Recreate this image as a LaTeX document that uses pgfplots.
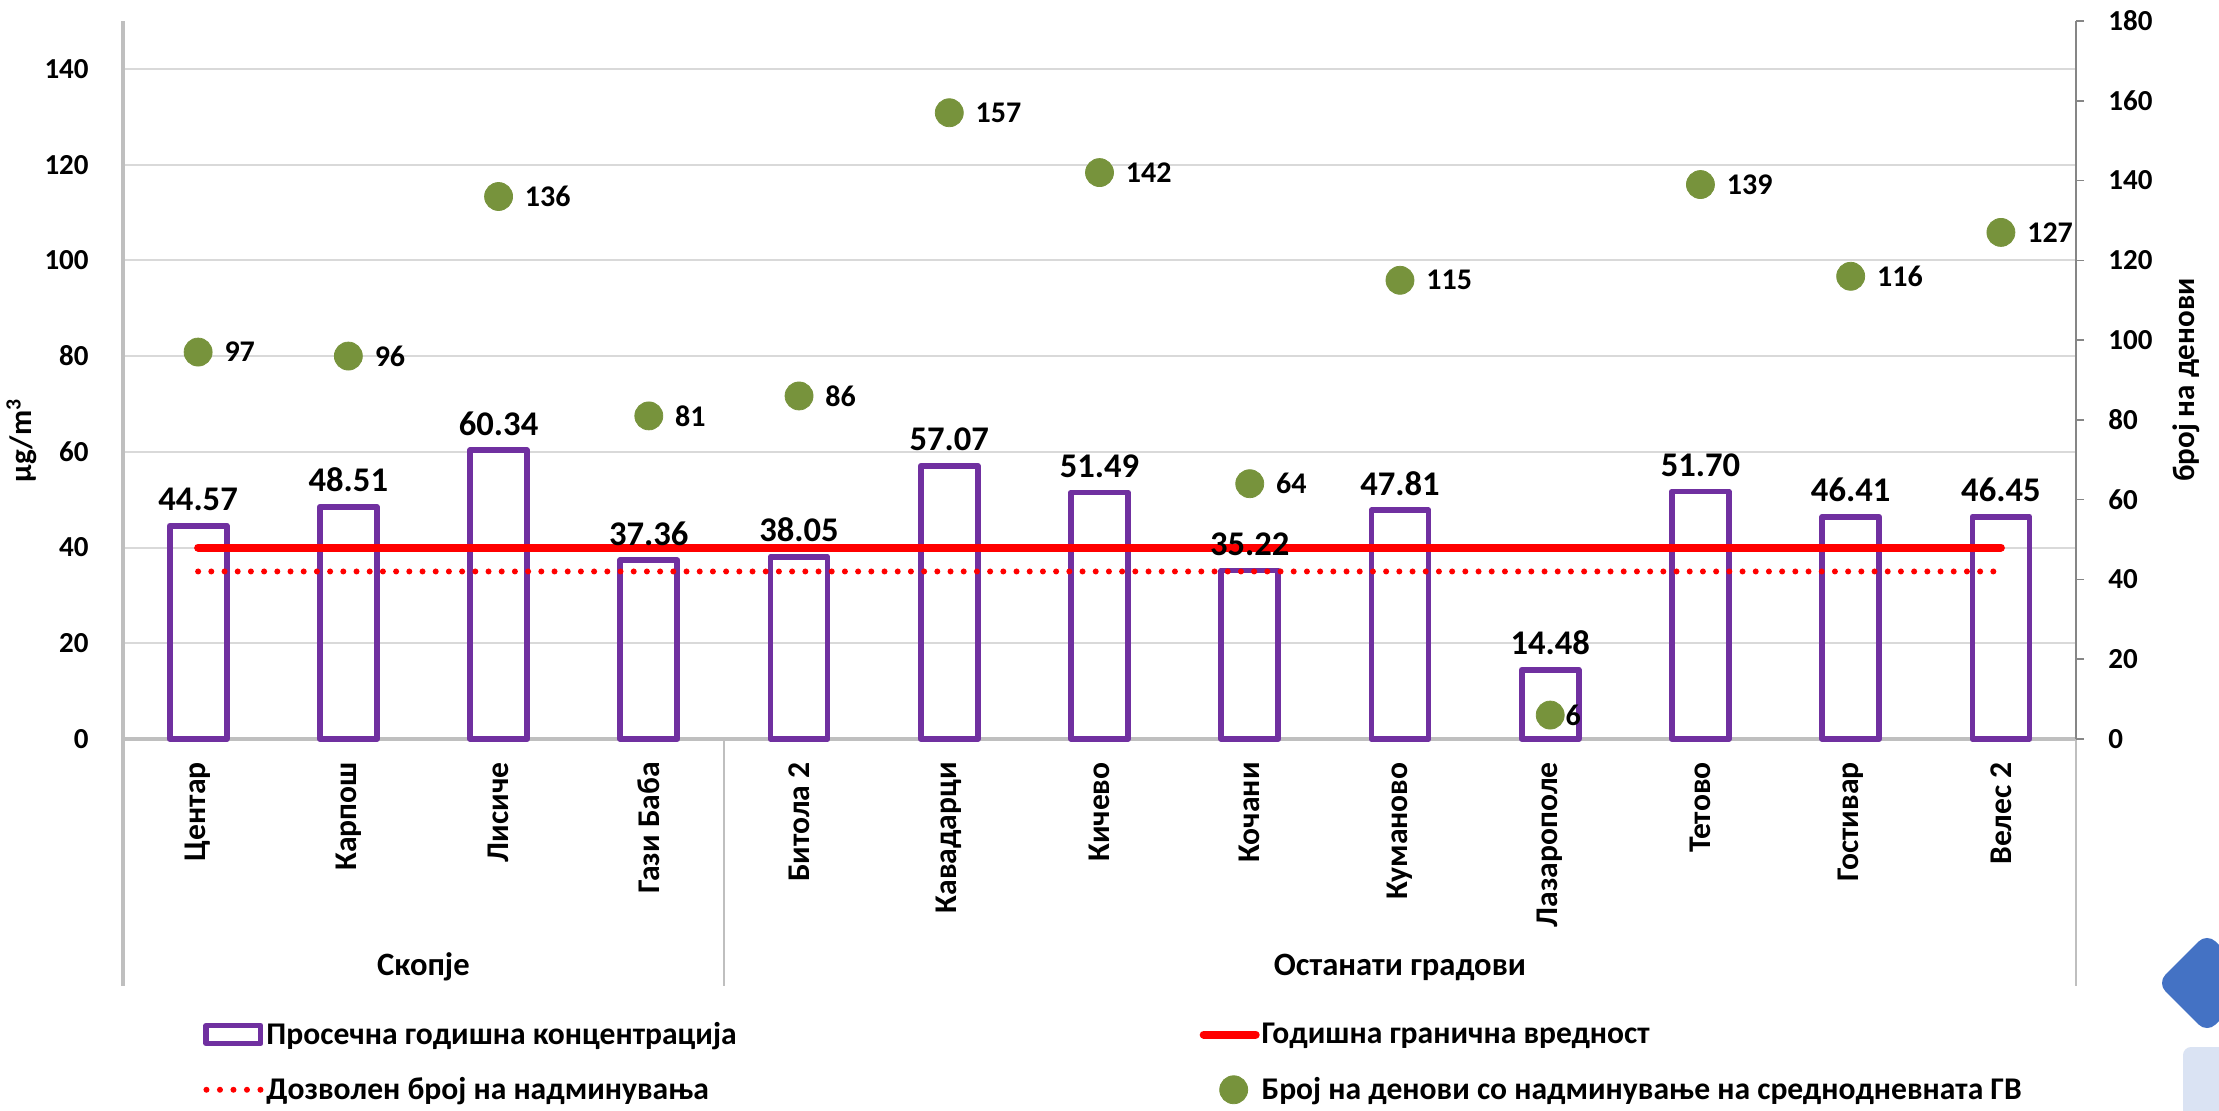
\documentclass[border=0pt]{standalone}
\usepackage{fontspec}
\setmainfont{Carlito}
\usepackage{pgfplots}
\pgfplotsset{compat=1.18}

\definecolor{barpurple}{HTML}{7030A0}
\definecolor{dotgreen}{HTML}{77933C}
\definecolor{axgray}{HTML}{BFBFBF}
\definecolor{gridgray}{HTML}{D9D9D9}
\definecolor{rightgray}{HTML}{868686}
\definecolor{slideblue}{HTML}{4472C4}
\definecolor{slidelight}{HTML}{DAE3F3}

\newcommand{\fs}[1]{\fontsize{#1}{1.2\dimexpr#1pt\relax}\selectfont\bfseries}

\pgfplotsset{common/.style={
  at={(61.5pt,185.5pt)}, anchor=south west,
  scale only axis, width=976.5pt, height=359pt,
  xmin=-0.5, xmax=12.5,
  /pgf/number format/assume math mode=true,
  clip=false,
}}

\begin{document}
\begin{tikzpicture}[font=\bfseries]
\useasboundingbox (0,0) rectangle (1109.5pt,555pt);

\begin{axis}[common,
  ymin=0, ymax=150, ytick={0,20,...,140},
  axis x line*=bottom, axis y line*=left,
  axis line style={draw=axgray, line width=1.6pt},
  ymajorgrids, grid style={draw=gridgray, line width=1pt},
  major tick length=0pt,
  xtick={0,...,12},
  xticklabels={Центар,Карпош,Лисиче,Гази Баба,Битола 2,Кавадарци,Кичево,Кочани,Куманово,Лазарополе,Тетово,Гостивар,Велес 2},
  % rotated frame: negative xshift moves the label down
  xticklabel style={rotate=90, anchor=east, font=\fs{15.8}, inner sep=0pt, xshift=-11.5pt},
  yticklabel style={font=\fs{14.5}, anchor=east, inner sep=0pt, xshift=-17pt},
  ylabel={µg/m\textsuperscript{3}},
  ylabel style={at={(axis description cs:-0.052,0.416)}, anchor=center, font=\fs{15.5}},
  legend columns=2,
  legend cell align=left,
  legend style={at={(axis description cs:0.041,-0.388)}, anchor=north west,
    draw=none, fill=none, font=\fs{15.8}, row sep=11pt, inner sep=0pt,
    /tikz/every odd column/.append style={column sep=-1pt},
    /tikz/every even column/.append style={column sep=229.5pt}},
]
\addplot[ybar, bar width=28.5pt, draw=barpurple, line width=2.9pt, line join=round, fill=none,
  nodes near coords, point meta=explicit symbolic,
  nodes near coords style={font=\fs{17.3}, text=black, inner sep=2pt, yshift=4pt},
  legend image code/.code={\path[draw=none] (0pt,0pt) -- (30pt,0pt);
    \draw[barpurple, line width=2.6pt, line join=round] (1.3pt,-4.5pt) rectangle (28.7pt,4.5pt);}]
coordinates {
  (0,44.57) [44.57]
  (1,48.51) [48.51]
  (2,60.34) [60.34]
  (3,37.36) [37.36]
  (4,38.05) [38.05]
  (5,57.07) [57.07]
  (6,51.49) [51.49]
  (7,35.22) [35.22]
  (8,47.81) [47.81]
  (9,14.48) [14.48]
  (10,51.70) [51.70]
  (11,46.41) [46.41]
  (12,46.45) [46.45]
};
\addplot[red, line width=4pt, line cap=round,
  legend image code/.code={\path[draw=none] (0pt,0pt) -- (30pt,0pt);
    \draw[red, line width=4pt, line cap=round] (2pt,0pt) -- (28pt,0pt);}]
coordinates {(0,40) (12,40)};
\addplot[red, line width=3pt, line cap=round, dash pattern=on 0pt off 6.6pt,
  legend image code/.code={\path[draw=none] (0pt,0pt) -- (30pt,0pt);
    \draw[red, line width=3pt, line cap=round, dash pattern=on 0pt off 6.75pt] (1.5pt,0pt) -- (29pt,0pt);}]
coordinates {(0,35) (12,35)};
\addlegendimage{legend image code/.code={\path[draw=none] (0pt,0pt) -- (30pt,0pt);
  \fill[dotgreen] (17pt,0pt) circle (7pt);}}
\legend{Просечна годишна концентрација, Годишна гранична вредност,
  Дозволен број на надминувања, Број на денови со надминување на среднодневната ГВ}

% category group separators and labels
\draw[axgray, line width=1.6pt] (axis cs:-0.5,0) -- ++(0pt,-123.5pt);
\draw[axgray, line width=1.1pt] (axis cs:3.5,0) -- ++(0pt,-123.5pt);
\draw[axgray, line width=1.1pt] (axis cs:12.5,0) -- ++(0pt,-123.5pt);
\node[font=\fs{16.3}] at ([yshift=-114pt]axis cs:1.5,0) {Скопје};
\node[font=\fs{16.3}] at ([yshift=-114pt]axis cs:8,0) {Останати градови};
\end{axis}

\begin{axis}[common,
  ymin=0, ymax=180, ytick={0,20,...,180},
  axis y line*=right, axis x line=none,
  y axis line style={draw=rightgray, line width=0.8pt},
  tick style={draw=rightgray, line width=0.8pt},
  major tick length=4pt, tick align=outside,
  yticklabel style={font=\fs{14.5}, anchor=west, inner sep=0pt, xshift=12pt},
  ylabel={број на денови},
  ylabel style={at={(axis description cs:1.0563,0.5)}, anchor=center, font=\fs{15.5}},
]
\addplot[only marks, mark=*, mark size=7pt, mark options={draw=dotgreen, fill=dotgreen},
  nodes near coords, point meta=explicit symbolic,
  nodes near coords style={font=\fs{15}, text=black, anchor=west, inner sep=0pt, xshift=13pt}]
coordinates {
  (0,97) [97]
  (1,96) [96]
  (2,136) [136]
  (3,81) [81]
  (4,86) [86]
  (5,157) [157]
  (6,142) [142]
  (7,64) [64]
  (8,115) [115]
  (10,139) [139]
  (11,116) [116]
  (12,127) [127]
};
\addplot[only marks, mark=*, mark size=7pt, mark options={draw=dotgreen, fill=dotgreen},
  nodes near coords, point meta=explicit symbolic,
  nodes near coords style={font=\fs{15}, text=black, anchor=west, inner sep=0pt, xshift=7.5pt}]
coordinates {(9,6) [6]};
\end{axis}

% slide decorations at the right edge
\fill[slideblue, rounded corners=6pt] (1078.5pt,63.5pt) -- (1103.5pt,88.5pt) -- (1128.5pt,63.5pt) -- (1103.5pt,38.5pt) -- cycle;
\fill[slidelight, rounded corners=4pt] (1091.5pt,-5pt) rectangle (1120pt,31.5pt);
\end{tikzpicture}
\end{document}
